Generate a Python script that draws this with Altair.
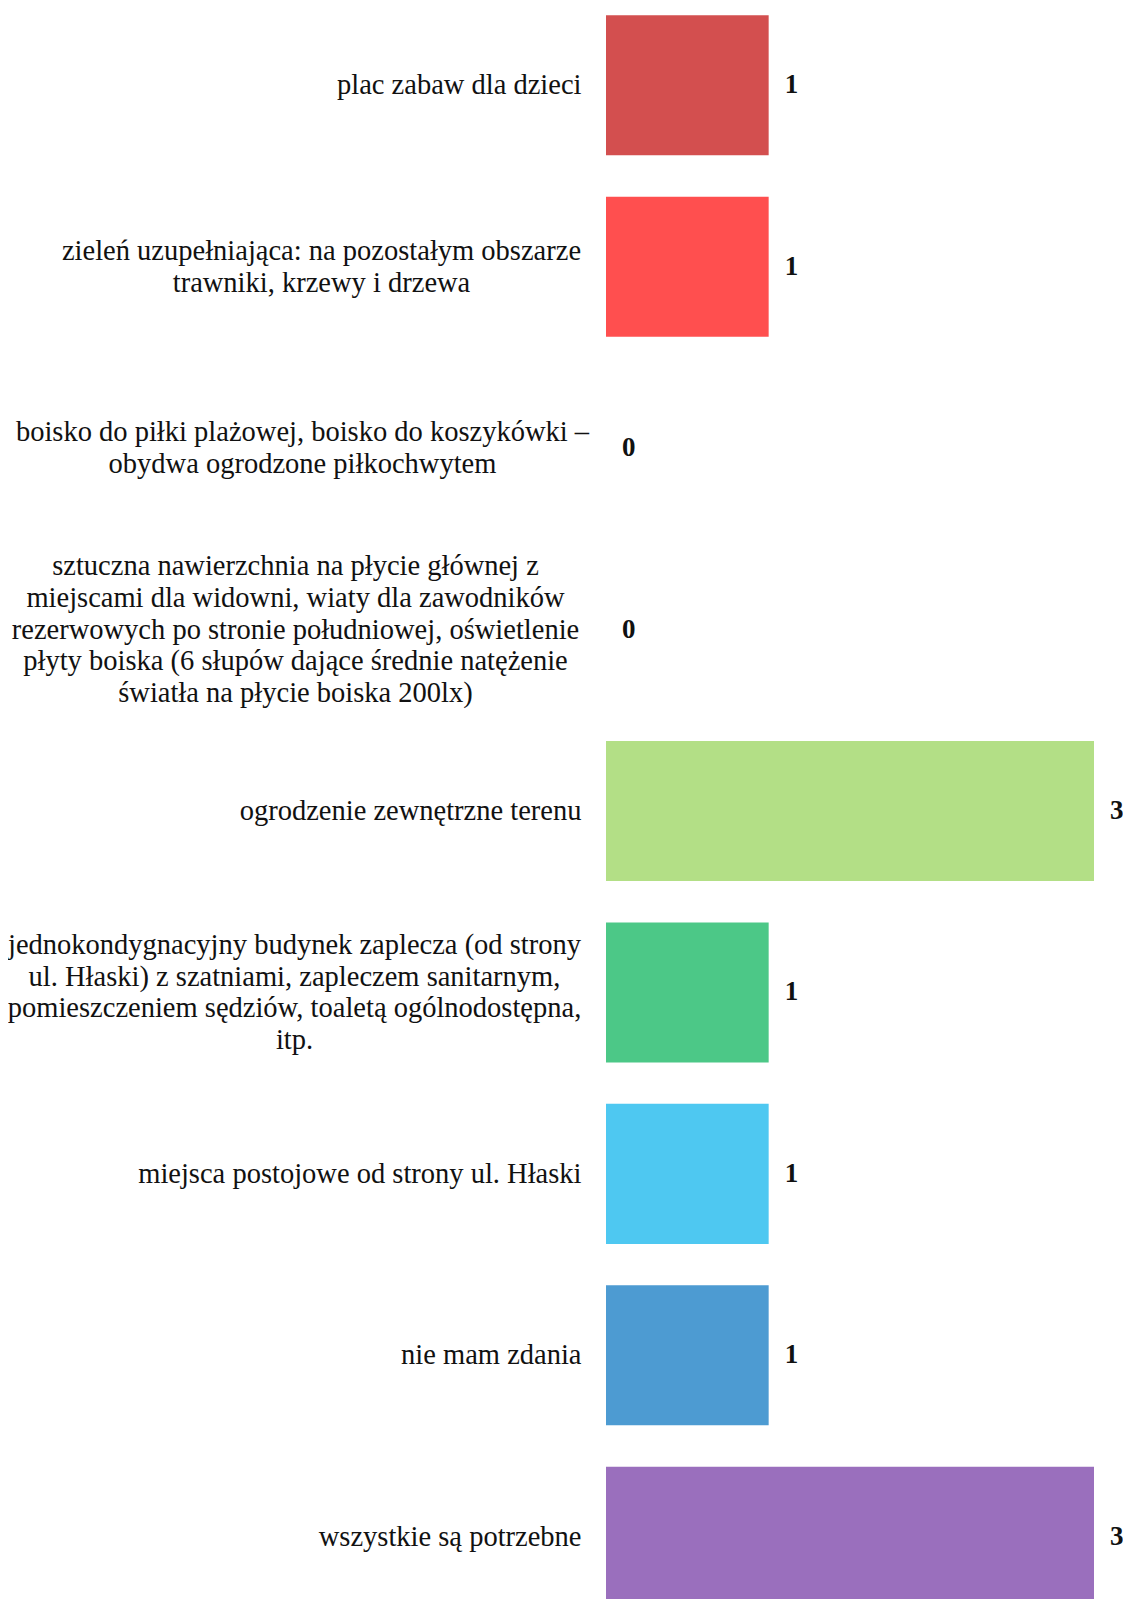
import altair as alt
import pandas as pd

categories = [
    "plac zabaw dla dzieci",
    "zieleń uzupełniająca: na pozostałym obszarze\ntrawniki, krzewy i drzewa",
    "boisko do piłki plażowej, boisko do koszykówki –\nobydwa ogrodzone piłkochwytem",
    "sztuczna nawierzchnia na płycie głównej z\nmiejscami dla widowni, wiaty dla zawodników\nrezerwowych po stronie południowej, oświetlenie\npłyty boiska (6 słupów dające średnie natężenie\nświatła na płycie boiska 200lx)",
    "ogrodzenie zewnętrzne terenu",
    "jednokondygnacyjny budynek zaplecza (od strony\nul. Hłaski) z szatniami, zapleczem sanitarnym,\npomieszczeniem sędziów, toaletą ogólnodostępna,\nitp.",
    "miejsca postojowe od strony ul. Hłaski",
    "nie mam zdania",
    "wszystkie są potrzebne",
]
values = [1, 1, 0, 0, 3, 1, 1, 1, 3]
colors = ["#d34f4f", "#ff4f4f", "#ff9f40", "#ffcd56", "#b3df86",
          "#4cc887", "#4ec8f1", "#4d9bd2", "#9a6fbd"]

df = pd.DataFrame({"cat": categories, "val": values, "color": colors})

FONT = "Liberation Serif"
LH = 31.6

pad_conditions = [
    {"test": "indexof(datum.value, 'zieleń') >= 0", "value": 285},
    {"test": "indexof(datum.value, 'boisko do piłki') >= 0", "value": 304},
    {"test": "indexof(datum.value, 'sztuczna') >= 0", "value": 311},
    {"test": "indexof(datum.value, 'jednokondygnacyjny') >= 0", "value": 312},
]

offset_conditions = [
    {"test": "indexof(datum.value, 'sztuczna') >= 0", "value": -2 * LH},
    {"test": "indexof(datum.value, 'jednokondygnacyjny') >= 0", "value": -1.5 * LH},
    {"test": "indexof(datum.value, '\\n') >= 0", "value": -0.5 * LH},
]

y_enc = alt.Y(
    "cat:N",
    sort=None,
    title=None,
    scale=alt.Scale(paddingInner=0.228, paddingOuter=0.04),
    axis=alt.Axis(
        domain=False,
        ticks=False,
        labelFont=FONT,
        labelFontSize=28.5,
        labelColor="#111111",
        labelLimit=0,
        labelLineHeight=LH,
        labelBaseline="middle",
        labelExpr="split(datum.label, '\\n')",
        labelAlign={"condition": {"test": "indexof(datum.value, '\\n') >= 0", "value": "center"}, "value": "right"},
        labelPadding={"condition": pad_conditions, "value": 25},
        labelOffset={"condition": offset_conditions, "value": 0},
    ),
)

x_enc = alt.X("val:Q", title=None, axis=None, scale=alt.Scale(domain=[0, 3], nice=False))

base = alt.Chart(df).encode(y=y_enc, x=x_enc)

bars = base.mark_bar().encode(color=alt.Color("color:N", scale=None, legend=None))

labels = base.mark_text(
    align="left", baseline="middle", dx=16, font=FONT, fontSize=27, fontWeight="bold", color="#111111"
).encode(text="val:Q")

chart = (
    alt.layer(bars, labels)
    .properties(
        width=488,
        height=1606,
        autosize=alt.AutoSizeParams(type="none"),
        padding={"left": 598, "top": 0, "right": 29, "bottom": 0},
    )
    .configure(background="white")
    .configure_view(strokeWidth=0)
)

chart.save("out.html", embed_options={"renderer": "svg", "actions": False})
